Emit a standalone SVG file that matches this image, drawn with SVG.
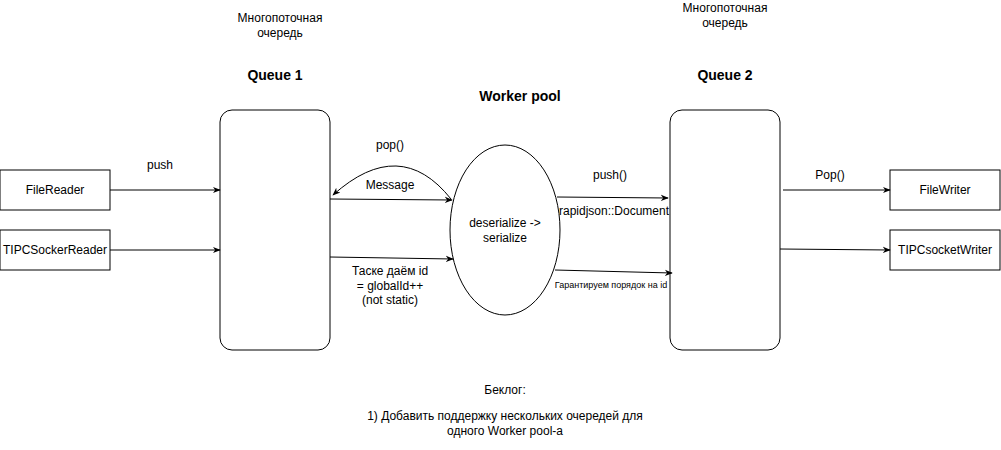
<svg xmlns="http://www.w3.org/2000/svg" width="1001" height="450" viewBox="0 0 1001 450">
<defs>
<marker id="arr" viewBox="0 0 10 10" refX="9" refY="5" markerWidth="8" markerHeight="8" markerUnits="userSpaceOnUse" orient="auto">
<path d="M0,1 L10,5 L0,9 L3,5 Z" fill="#000"/>
</marker>
<style>
.box{fill:#fff;stroke:#000;stroke-width:1}
.t{font-family:"Liberation Sans",Arial,sans-serif;font-size:12px;fill:#000;text-anchor:middle}
.s{font-size:9px}
.b{font-weight:bold;font-size:14px}
.c{fill:none;stroke:#000;stroke-width:1;marker-end:url(#arr)}
</style>
</defs>
<rect width="1001" height="450" fill="#fff"/>
<g id="labels">
<text class="t" x="280" y="22">Многопоточная</text>
<text class="t" x="280" y="37">очередь</text>
<text class="t b" x="275" y="80">Queue 1</text>
<text class="t b" x="520" y="101">Worker pool</text>
<text class="t" x="725" y="12">Многопоточная</text>
<text class="t" x="725" y="27">очередь</text>
<text class="t b" x="725" y="80">Queue 2</text>
<text class="t" x="505" y="394">Беклог:</text>
<text class="t" x="505" y="420">1) Добавить поддержку нескольких очередей для</text>
<text class="t" x="505" y="435">одного Worker pool-a</text>
</g>
<g id="FileReader"><rect class="box" x="0" y="170" width="110" height="40"/><text class="t" x="55" y="194">FileReader</text></g>
<g id="TIPCSockerReader"><rect class="box" x="0" y="230" width="110" height="40"/><text class="t" x="55" y="254">TIPCSockerReader</text></g>
<g id="Queue1"><rect class="box" x="220" y="110" width="110" height="240" rx="12"/></g>
<g id="Queue2"><rect class="box" x="670" y="110" width="110" height="240" rx="12"/></g>
<g id="WorkerPool"><ellipse class="box" cx="505" cy="230" rx="55" ry="85"/><text class="t" x="505" y="227">deserialize -&gt;</text><text class="t" x="505" y="242">serialize</text></g>
<g id="FileWriter"><rect class="box" x="890" y="170" width="110" height="40"/><text class="t" x="945" y="194">FileWriter</text></g>
<g id="TIPCsocketWriter"><rect class="box" x="890" y="230" width="110" height="40"/><text class="t" x="945" y="254">TIPCsocketWriter</text></g>
<g id="connectors">
<path class="c" d="M110,190 L220,190"/>
<path class="c" d="M110,250 L220,250"/>
<path class="c" d="M330,199 L452,200"/>
<path class="c" d="M330,257 L453,259"/>
<path class="c" d="M451,199 Q400,135 333,195"/>
<path class="c" d="M557,197 L668,198"/>
<path class="c" d="M555,270 L672,273"/>
<path class="c" d="M783,190 L890,190"/>
<path class="c" d="M780,249 L890,250"/>
<text class="t" x="160" y="169">push</text>
<text class="t" x="390" y="149">pop()</text>
<text class="t" x="390" y="189">Message</text>
<text class="t" x="610" y="179">push()</text>
<text class="t" x="614" y="215">rapidjson::Document</text>
<text class="t s" x="611" y="288">Гарантируем порядок на id</text>
<text class="t" x="390" y="275">Таске даём id</text>
<text class="t" x="390" y="290">= globalId++</text>
<text class="t" x="390" y="304">(not static)</text>
<text class="t" x="830" y="179">Pop()</text>
</g>
</svg>
